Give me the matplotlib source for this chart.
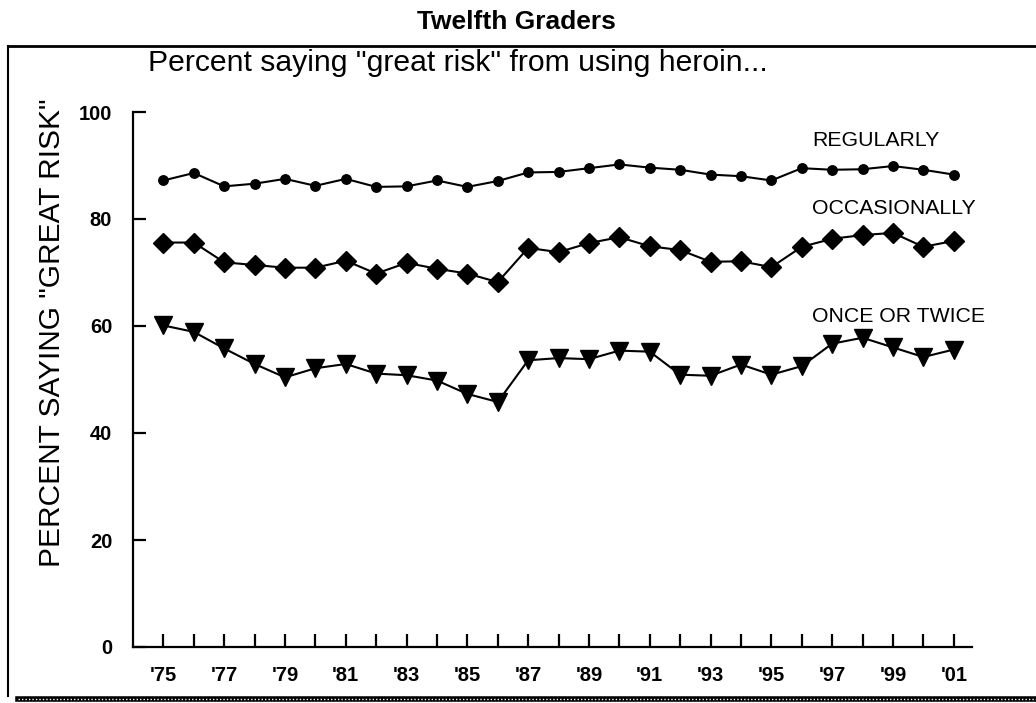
import numpy as np
import matplotlib.pyplot as plt
from matplotlib.lines import Line2D

plt.rcParams["font.family"] = ["Liberation Sans", "DejaVu Sans"]

years = list(range(1975, 2002))
year_labels = [f"'{y % 100:02d}" if y % 2 == 1 else "" for y in years]

regularly = [87.2, 88.6, 86.1, 86.6, 87.5, 86.2, 87.5, 86.0, 86.1, 87.2, 86.0, 87.1, 88.7,
             88.8, 89.5, 90.2, 89.6, 89.2, 88.3, 88.0, 87.2, 89.5, 89.2, 89.3, 89.9, 89.2, 88.3]
occasionally = [75.6, 75.6, 71.9, 71.4, 70.9, 70.9, 72.2, 69.8, 71.8, 70.7, 69.8, 68.2, 74.6,
                73.8, 75.5, 76.6, 74.9, 74.2, 72.0, 72.1, 71.0, 74.8, 76.3, 77.0, 77.4, 74.8, 75.9]
once_twice = [60.1, 58.9, 55.8, 52.9, 50.4, 52.1, 52.9, 51.1, 50.8, 49.8, 47.3, 45.8, 53.6,
              54.0, 53.8, 55.4, 55.2, 50.9, 50.7, 52.8, 50.9, 52.5, 56.7, 57.8, 56.0, 54.2, 55.6]
series_names = ["REGULARLY", "OCCASIONALLY", "ONCE OR TWICE"]

W, H = 1036, 703
fig = plt.figure(figsize=(W / 100, H / 100), dpi=100)


def fx(px):
    return px / W


def fy(py):
    return 1 - py / H


ax = fig.add_axes([fx(133), fy(647), fx(972) - fx(133), fy(112) - fy(647)])

ax.plot(years, regularly, color="black", lw=1.5, marker="o", ms=6.8)
ax.plot(years, occasionally, color="black", lw=1.5, marker="D", ms=10)
ax.plot(years, once_twice, color="black", lw=1.5, marker="v", ms=13.5)

ax.set_xlim(1974.0, 2001.6)
ax.set_ylim(0, 100)
ax.set_yticks([0, 20, 40, 60, 80, 100])
ax.set_xticks(years)
ax.set_xticklabels(year_labels)

for s in ["top", "right"]:
    ax.spines[s].set_visible(False)
for s in ["left", "bottom"]:
    ax.spines[s].set_linewidth(1.6)

ax.tick_params(axis="both", direction="in", length=9.5, width=1.6, labelsize=14.5)
ax.tick_params(axis="y", pad=15)
ax.tick_params(axis="x", pad=14)
for lab in ax.get_xticklabels() + ax.get_yticklabels():
    lab.set_fontweight("bold")

# series labels
label_pos = [(812, 141), (812, 208), (812, 316)]
for name, (px, py) in zip(series_names, label_pos):
    fig.text(fx(px), fy(py), name, fontsize=15.3, ha="left", va="center")

fig.text(fx(516), fy(22), "Twelfth Graders", fontsize=19, fontweight="bold",
         ha="center", va="center")
fig.text(fx(148), fy(63), 'Percent saying "great risk" from using heroin...',
         fontsize=21.7, ha="left", va="center")
fig.text(fx(52), fy(333), 'PERCENT SAYING "GREAT RISK"', fontsize=21.5,
         rotation=90, ha="center", va="center")

# outer frame
fig.add_artist(Line2D([fx(8), fx(8)], [fy(46), fy(696)], color="black", lw=1.5))
fig.add_artist(Line2D([fx(8), fx(1036)], [fy(46), fy(46)], color="black", lw=2))
fig.add_artist(Line2D([fx(18), fx(1036)], [fy(699), fy(699)], color="black", lw=4))
fig.add_artist(Line2D([fx(18), fx(1036)], [fy(699), fy(699)], color="white", lw=1,
                      linestyle=(0, (1, 1.5))))

fig.savefig("out.png", dpi=100)
